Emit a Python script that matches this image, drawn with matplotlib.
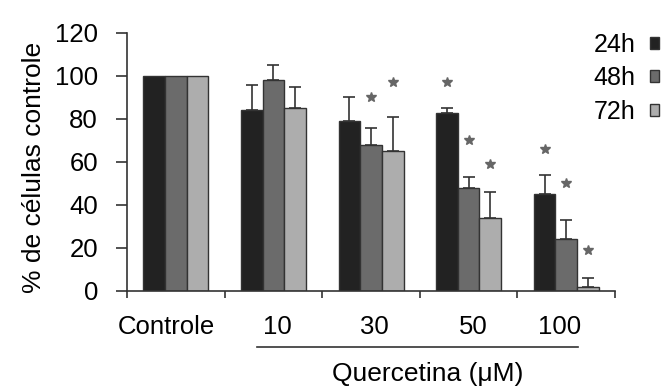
import matplotlib.pyplot as plt
import matplotlib.transforms as mtransforms
import numpy as np

plt.rcParams['font.family'] = ['Liberation Sans', 'DejaVu Sans']

groups = ['Controle', '10', '30', '50', '100']
series = ['24h', '48h', '72h']
vals_24h = [100, 84, 79, 83, 45]
vals_48h = [100, 98, 68, 48, 24]
vals_72h = [100, 85, 65, 34, 2]
err_24h = [0, 12, 11, 2, 9]
err_48h = [0, 7, 8, 5, 9]
err_72h = [0, 10, 16, 12, 4]
# significance marks: (group index, series index, height)
stars = [(2, 1, 90), (2, 2, 97), (3, 0, 97), (3, 1, 70),
         (3, 2, 59), (4, 0, 66), (4, 1, 50), (4, 2, 19)]

colors = ['#222222', '#6b6b6b', '#adadad']

fig = plt.figure(figsize=(6.62, 3.88), dpi=100)
ax = fig.add_axes([0.192, 0.25, 0.737, 0.665])

x = np.arange(len(groups))
w = 0.222
offsets = [-w, 0, w]
all_vals = [vals_24h, vals_48h, vals_72h]
all_errs = [err_24h, err_48h, err_72h]

handles = []
for i, (v, e) in enumerate(zip(all_vals, all_errs)):
    b = ax.bar(x + offsets[i], v, w, color=colors[i], edgecolor='#333333',
               linewidth=1.0, label=series[i], zorder=2)
    handles.append(b)
    yerr = np.array([np.zeros(len(e)), e])
    mask = np.array(e) > 0
    ax.errorbar((x + offsets[i])[mask], np.array(v)[mask], yerr=yerr[:, mask],
                fmt='none', ecolor='#333333', elinewidth=1.2, capsize=4,
                capthick=1.2, zorder=3)

for g, s, h in stars:
    ax.plot(x[g] + offsets[s], h, marker='*', color='#666666',
            markersize=7, linestyle='none', zorder=4)

ax.set_xlim(-0.5, 4.5)
ax.set_ylim(0, 120)
ax.set_yticks(range(0, 121, 20))
ax.tick_params(axis='y', labelsize=18.5, direction='out', length=8,
               width=1.2, color='#333333', pad=13)
# labels sit a little off the group centres
label_nudge = [-0.1, 0.04, 0.03, 0.05, -0.07]
ax.set_xticks(x + np.array(label_nudge))
ax.set_xticklabels(groups)
ax.tick_params(axis='x', which='major', length=0, labelsize=18.5, pad=17)
ax.set_xticks(np.arange(-0.5, 5, 1), minor=True)
ax.tick_params(axis='x', which='minor', direction='out', length=5,
               width=1.2, color='#333333')
for side in ['top', 'right']:
    ax.spines[side].set_visible(False)
for side in ['left', 'bottom']:
    ax.spines[side].set_color('#333333')
    ax.spines[side].set_linewidth(1.2)

ax.set_ylabel('% de células controle', fontsize=19)
ax.yaxis.set_label_coords(-0.167, 0.48)

# bracket line and title under the quercetin doses
trans = mtransforms.blended_transform_factory(ax.transData, ax.transAxes)
ax.plot([0.83, 4.12], [-0.216, -0.216], color='#333333', lw=1.2,
        transform=trans, clip_on=False)
ax.text(2.58, -0.32, 'Quercetina (μM)', transform=trans, ha='center',
        va='center', fontsize=19)

leg = ax.legend(handles, series, loc='upper left',
                bbox_to_anchor=(0.935, 1.04), markerfirst=False, frameon=False,
                fontsize=18, handlelength=0.35, handleheight=0.35,
                handletextpad=0.6, labelspacing=0.38, borderaxespad=0)

fig.savefig('out.png', dpi=100, facecolor='white')
